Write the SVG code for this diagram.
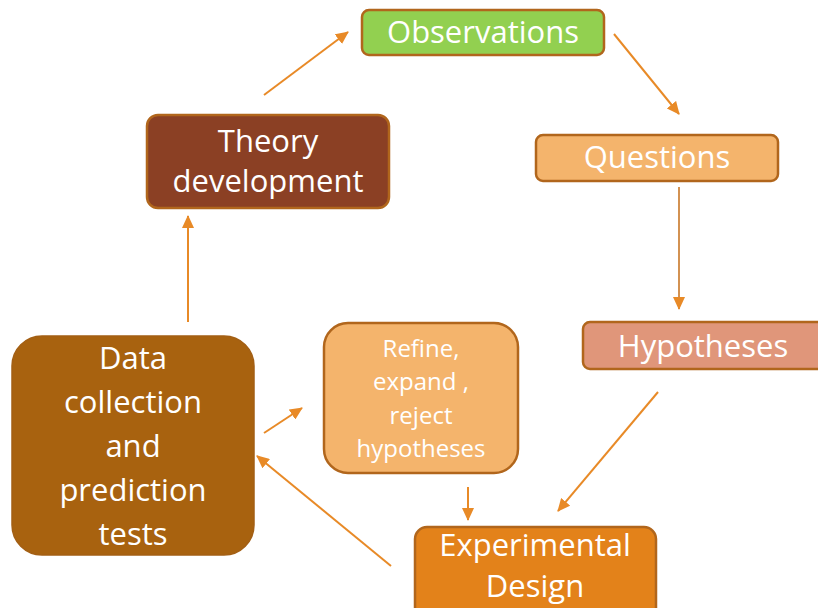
<svg xmlns="http://www.w3.org/2000/svg" width="818" height="608" viewBox="0 0 818 608">
<defs>
<style>
.box{stroke:#b1661c;stroke-width:2.5}
.t{font-family:"Open Sans","Liberation Sans",sans-serif;fill:#ffffff;text-anchor:middle;font-size:31px}
.s{font-size:24px}
.c{fill:none;stroke:#e88a27;stroke-width:2}
</style>
<marker id="ah" markerUnits="userSpaceOnUse" markerWidth="13" markerHeight="12" refX="12" refY="6" orient="auto">
<path d="M0,0 L13,6 L0,12 z" fill="#e88a27"/>
</marker>
</defs>
<rect width="818" height="608" fill="#ffffff"/>
<g id="connectors">
<line class="c" x1="264" y1="95" x2="348" y2="32" marker-end="url(#ah)"/>
<line class="c" x1="614" y1="34" x2="679" y2="114" marker-end="url(#ah)"/>
<line class="c" x1="679" y1="187" x2="679" y2="309" style="stroke:#d39252" marker-end="url(#ah)"/>
<line class="c" x1="658" y1="392" x2="558" y2="511" marker-end="url(#ah)"/>
<line class="c" x1="468" y1="487" x2="468" y2="520" marker-end="url(#ah)"/>
<line class="c" x1="391" y1="566" x2="257" y2="456" marker-end="url(#ah)"/>
<line class="c" x1="264" y1="433" x2="302" y2="408" marker-end="url(#ah)"/>
<line class="c" x1="188" y1="322" x2="188" y2="216" marker-end="url(#ah)"/>
</g>
<g id="observations">
<rect class="box" x="362" y="10" width="242" height="45" rx="7" fill="#92d050"/>
<text class="t" x="483" y="43">Observations</text>
</g>
<g id="questions">
<rect class="box" x="536" y="135" width="242" height="46" rx="7" fill="#f4b46c"/>
<text class="t" x="657" y="168">Questions</text>
</g>
<g id="hypotheses">
<rect class="box" x="583" y="322" width="242" height="47" rx="7" fill="#e0967a"/>
<text class="t" x="703" y="357">Hypotheses</text>
</g>
<g id="theory">
<rect class="box" x="147" y="115" width="242" height="93" rx="11" fill="#8b4024"/>
<text class="t" x="268" y="152">Theory</text>
<text class="t" x="268" y="192">development</text>
</g>
<g id="data">
<rect x="12" y="336" width="242" height="219" rx="30" fill="#a8620f" stroke="#a35f14" stroke-width="1.5"/>
<text class="t" x="133" y="369">Data</text>
<text class="t" x="133" y="413">collection</text>
<text class="t" x="133" y="457">and</text>
<text class="t" x="133" y="501">prediction</text>
<text class="t" x="133" y="545">tests</text>
</g>
<g id="refine">
<rect class="box" x="324" y="323" width="194" height="150" rx="24" fill="#f4b46c"/>
<text class="t s" x="421" y="357">Refine,</text>
<text class="t s" x="421" y="390">expand ,</text>
<text class="t s" x="421" y="424">reject</text>
<text class="t s" x="421" y="457">hypotheses</text>
</g>
<g id="experimental">
<rect class="box" x="415" y="527" width="241" height="95" rx="12" fill="#e3821a"/>
<text class="t" x="535" y="556">Experimental</text>
<text class="t" x="535" y="597">Design</text>
</g>
</svg>
